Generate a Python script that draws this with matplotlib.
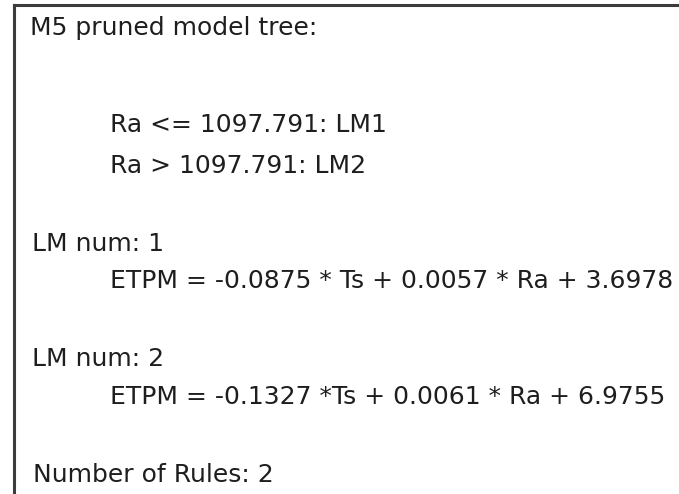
import matplotlib
matplotlib.use('Agg')
import matplotlib.pyplot as plt
from matplotlib.lines import Line2D

# text content of the model tree output
title = "M5 pruned model tree:"
split_attr = "Ra"
split_value = 1097.791
rules = ["<=", ">"]
leaf_models = ["LM1", "LM2"]
lm_nums = [1, 2]
coef_ts = [-0.0875, -0.1327]
coef_ra = [0.0057, 0.0061]
intercepts = [3.6978, 6.9755]
n_rules = 2

W, H = 679, 494
fig = plt.figure(figsize=(W / 100, H / 100), dpi=100)
fig.patch.set_facecolor('white')

def put(x, y, s):
    # x, y in pixels from top-left, y is the baseline
    fig.text(x / W, 1 - y / H, s, fontsize=18, family=['DejaVu Sans'],
             color='#1e1e1e', ha='left', va='baseline')

put(30, 35, title)
rule_y = [132, 173]
for i in range(2):
    put(110, rule_y[i], "%s %s %.3f: %s" % (split_attr, rules[i], split_value, leaf_models[i]))

lm_y = [251, 366]
eq_y = [288, 404]
ts_sep = [" * Ts", " *Ts"]
for i in range(2):
    put(32, lm_y[i], "LM num: %d" % lm_nums[i])
    put(110, eq_y[i], "ETPM = %.4f%s + %.4f * Ra + %.4f" % (coef_ts[i], ts_sep[i], coef_ra[i], intercepts[i]))

put(33, 482, "Number of Rules: %d" % n_rules)

# box border (only top and left edges visible)
fig.add_artist(Line2D([13.5 / W, 1.0], [1 - 5.5 / H, 1 - 5.5 / H], transform=fig.transFigure,
                      color='#3c3c3c', lw=2.2, solid_capstyle='projecting'))
fig.add_artist(Line2D([13.5 / W, 13.5 / W], [1 - 5.5 / H, 0.0], transform=fig.transFigure,
                      color='#3c3c3c', lw=2.2, solid_capstyle='projecting'))

plt.savefig('out.png', dpi=100)
